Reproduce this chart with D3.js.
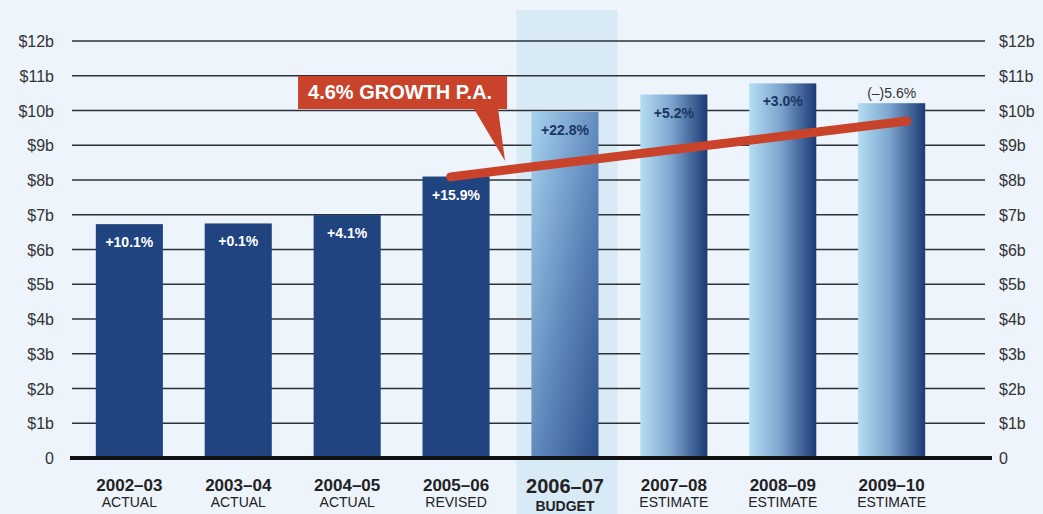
<!DOCTYPE html>
<html>
<head>
<meta charset="utf-8">
<script src="https://cdn.jsdelivr.net/npm/d3@7"></script>
<style>
  html, body { margin: 0; padding: 0; background: #edf4fb; }
  svg { display: block; font-family: 'Liberation Sans', Arial, sans-serif; }
</style>
</head>
<body>
<div id="chart"></div>
<script>
const years = ['2002–03', '2003–04', '2004–05', '2005–06', '2006–07', '2007–08', '2008–09', '2009–10']
const stages = ['ACTUAL', 'ACTUAL', 'ACTUAL', 'REVISED', 'BUDGET', 'ESTIMATE', 'ESTIMATE', 'ESTIMATE']
const revenue = [6.73, 6.75, 6.99, 8.1, 9.96, 10.46, 10.78, 10.21]
const changes = ['+10.1%', '+0.1%', '+4.1%', '+15.9%', '+22.8%', '+5.2%', '+3.0%', '(–)5.6%']
const tickValues = [0, 1, 2, 3, 4, 5, 6, 7, 8, 9, 10, 11, 12]
const tickLabels = ['0', '$1b', '$2b', '$3b', '$4b', '$5b', '$6b', '$7b', '$8b', '$9b', '$10b', '$11b', '$12b']
// growth trend, x in category index units
const trend = [{ i: 2.95, v: 8.09 }, { i: 7.14, v: 9.7 }]
const trendLabel = '4.6% GROWTH P.A.'

const width = 1043
const height = 514
const budgetIndex = 4

const svg = d3.select('#chart')
  .append('svg')
  .attr('width', width)
  .attr('height', height)

svg.append('rect')
  .attr('width', width)
  .attr('height', height)
  .attr('fill', '#edf4fb')

const x = d3.scaleBand()
  .domain(years)
  .range([54, 967])
  .padding(0.384)

const centre = d3.scaleLinear()
  .domain([0, years.length - 1])
  .range([x(years[0]) + x.bandwidth() / 2, x(years[years.length - 1]) + x.bandwidth() / 2])

const y = d3.scaleLinear()
  .domain([0, 12])
  .range([458, 41])

// gradients
const defs = svg.append('defs')
const est = defs.append('linearGradient')
  .attr('id', 'est')
  .attr('x1', 0).attr('y1', 0).attr('x2', 1).attr('y2', 0)
est.append('stop').attr('offset', '0%').attr('stop-color', '#b4def3')
est.append('stop').attr('offset', '45%').attr('stop-color', '#7ea7cf')
est.append('stop').attr('offset', '100%').attr('stop-color', '#1b3a76')

const bud = defs.append('linearGradient')
  .attr('id', 'bud')
  .attr('x1', 0).attr('y1', 0).attr('x2', 1).attr('y2', 1)
bud.append('stop').attr('offset', '0%').attr('stop-color', '#a7d3ef')
bud.append('stop').attr('offset', '55%').attr('stop-color', '#5d86ba')
bud.append('stop').attr('offset', '100%').attr('stop-color', '#2c4f8c')

// budget highlight band
svg.append('rect')
  .attr('x', centre(budgetIndex) + 2 - 50.5)
  .attr('y', 10)
  .attr('width', 101)
  .attr('height', height - 10)
  .attr('fill', '#d8eaf6')

// gridlines
svg.append('g')
  .selectAll('line')
  .data(tickValues.filter(d => d > 0))
  .enter()
  .append('line')
  .attr('x1', 72)
  .attr('x2', 985)
  .attr('y1', d => y(d))
  .attr('y2', d => y(d))
  .attr('stroke', '#2c3038')
  .attr('stroke-width', 1.6)

// tick labels both sides
const ticks = svg.append('g')
  .attr('font-size', 16)
  .attr('fill', '#333')
ticks.selectAll('.tl')
  .data(tickValues)
  .enter()
  .append('text')
  .attr('class', 'tl')
  .attr('x', 54)
  .attr('y', d => y(d) + 6)
  .attr('text-anchor', 'end')
  .text((d, i) => tickLabels[i])
ticks.selectAll('.tr')
  .data(tickValues)
  .enter()
  .append('text')
  .attr('class', 'tr')
  .attr('x', 999)
  .attr('y', d => y(d) + 6)
  .text((d, i) => tickLabels[i])

// bars
svg.append('g')
  .selectAll('rect')
  .data(revenue)
  .enter()
  .append('rect')
  .attr('x', (d, i) => x(years[i]))
  .attr('y', d => y(d))
  .attr('width', x.bandwidth())
  .attr('height', d => y(0) - y(d))
  .attr('fill', (d, i) => i < budgetIndex ? '#1f447f' : i === budgetIndex ? 'url(#bud)' : 'url(#est)')

// zero baseline
svg.append('line')
  .attr('x1', 70)
  .attr('x2', 992)
  .attr('y1', y(0))
  .attr('y2', y(0))
  .attr('stroke', '#111')
  .attr('stroke-width', 4)

// change labels
svg.append('g')
  .selectAll('text')
  .data(changes)
  .enter()
  .append('text')
  .attr('x', (d, i) => centre(i))
  .attr('y', (d, i) => i === years.length - 1 ? y(revenue[i]) - 5 : y(revenue[i]) + 23)
  .attr('text-anchor', 'middle')
  .attr('font-size', 14)
  .attr('font-weight', (d, i) => i === years.length - 1 ? 'normal' : 'bold')
  .attr('fill', (d, i) => i < budgetIndex ? '#fff' : i === years.length - 1 ? '#333' : '#1c3563')
  .text(d => d)

// trend line
svg.append('path')
  .datum(trend)
  .attr('d', d3.line().x(d => centre(d.i)).y(d => y(d.v)))
  .attr('fill', 'none')
  .attr('stroke', '#c9432b')
  .attr('stroke-width', 9)
  .attr('stroke-linecap', 'round')

// callout
const tipX = centre(3.45)
const tipY = y(8.55)
const box = { x: tipX - 207, y: tipY - 85, w: 209, h: 33 }
const callout = svg.append('g')
callout.append('path')
  .attr('d', `M${box.x},${box.y}H${box.x + box.w}V${box.y + box.h}H${tipX - 7}L${tipX},${tipY}L${tipX - 31},${box.y + box.h}H${box.x}Z`)
  .attr('fill', '#c9432b')
callout.append('text')
  .attr('x', box.x + 10)
  .attr('y', box.y + 23)
  .attr('font-size', 20)
  .attr('font-weight', 'bold')
  .attr('fill', '#fff')
  .text(trendLabel)

// category labels
const cats = svg.append('g')
  .selectAll('g')
  .data(years)
  .enter()
  .append('g')
  .attr('transform', (d, i) => `translate(${centre(i)},0)`)
cats.append('text')
  .attr('y', (d, i) => i === budgetIndex ? 493 : 491)
  .attr('text-anchor', 'middle')
  .attr('font-size', (d, i) => i === budgetIndex ? 20 : 17)
  .attr('font-weight', 'bold')
  .attr('fill', '#222')
  .text(d => d)
cats.append('text')
  .attr('y', (d, i) => i === budgetIndex ? 511 : 507)
  .attr('text-anchor', 'middle')
  .attr('font-size', 14)
  .attr('font-weight', (d, i) => i === budgetIndex ? 'bold' : 'normal')
  .attr('fill', '#222')
  .text((d, i) => stages[i])
</script>
</body>
</html>
